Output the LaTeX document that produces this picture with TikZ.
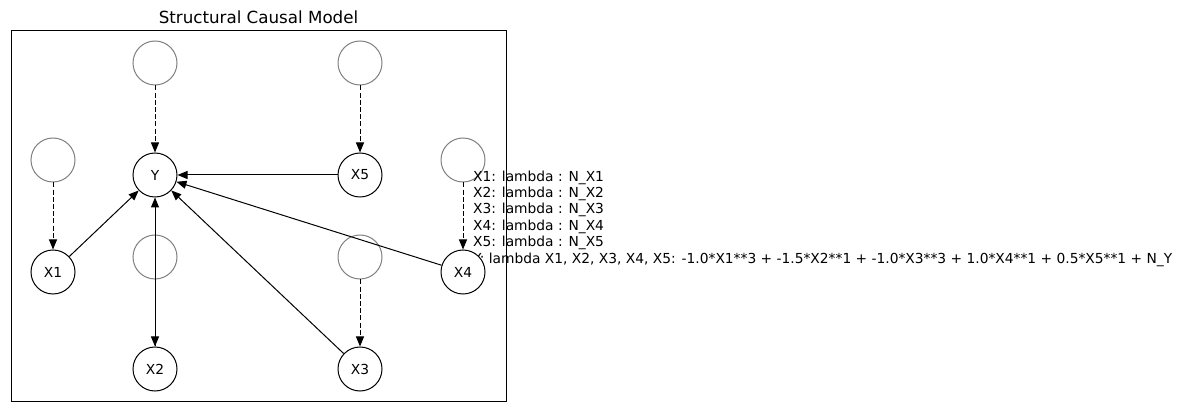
\documentclass[tikz,border=0pt]{standalone}
\usepackage{fontspec}
\setmainfont{DejaVu Sans}
\usetikzlibrary{arrows.meta}

\tikzset{
  var/.style={circle, draw=black, line width=1pt, fill=white,
    minimum size=44pt, inner sep=0pt, font=\fontsize{13.8}{16.4}\selectfont},
  noise/.style={circle, draw=gray, line width=1pt, minimum size=44pt, inner sep=0pt},
  cause/.style={line width=1pt, -{Triangle[length=10pt,width=8pt]}},
  noisecause/.style={cause, dash pattern=on 5pt off 2.2pt},
}

\begin{document}
\begin{tikzpicture}[x=1pt, y=-1pt]
  \useasboundingbox (0,0) rectangle (1183,411);

  \node (title) [anchor=base, font=\fontsize{16.7}{20}\selectfont] at (258.5,24) {Structural Causal Model};

  % noise terms
  \node (NY)  [noise] at (155,63) {};
  \node (NX5) [noise] at (360,63) {};
  \node (NX1) [noise] at (53,160) {};
  \node (NX4) [noise] at (463,160) {};
  \node (NX2) [noise] at (155,257) {};
  \node (NX3) [noise] at (360,257) {};

  % mechanisms
  \node (eqs) [anchor=north west, inner sep=0pt, align=left,
    font=\fontsize{13.8}{16.4}\selectfont] at (473,170.5)
    {X1: lambda : N\_X1\\
     X2: lambda : N\_X2\\
     X3: lambda : N\_X3\\
     X4: lambda : N\_X4\\
     X5: lambda : N\_X5\\
     Y: lambda X1, X2, X3, X4, X5: -1.0*X1**3 + -1.5*X2**1 + -1.0*X3**3 + 1.0*X4**1 + 0.5*X5**1 + N\_Y};

  % variables
  \node (Y)  [var] at (155,175) {Y};
  \node (X5) [var] at (360,175) {X5};
  \node (X1) [var] at (53,272) {X1};
  \node (X4) [var] at (463,272) {X4};
  \node (X2) [var] at (155,369) {X2};
  \node (X3) [var] at (360,369) {X3};

  \draw [noisecause] (NY) to (Y);
  \draw [noisecause] (NX5) to (X5);
  \draw [noisecause] (NX1) to (X1);
  \draw [noisecause] (NX4) to (X4);
  \draw [noisecause] (NX2) to (X2);
  \draw [noisecause] (NX3) to (X3);

  \draw [cause] (X1) to (Y);
  \draw [cause] (X2) to (Y);
  \draw [cause] (X3) to (Y);
  \draw [cause] (X4) to (Y);
  \draw [cause] (X5) to (Y);

  \draw [line width=1pt] (11,31) rectangle (506,401);
\end{tikzpicture}
\end{document}
